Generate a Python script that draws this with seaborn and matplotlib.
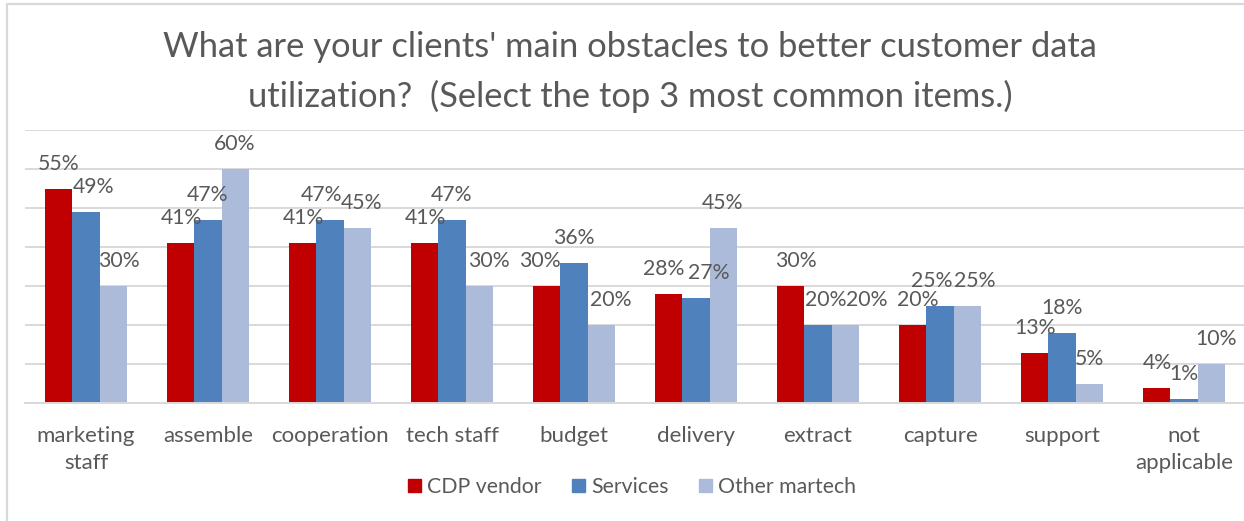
import matplotlib
matplotlib.use("Agg")
import matplotlib.pyplot as plt
from matplotlib.lines import Line2D
import seaborn as sns
import pandas as pd

# Survey answers, share of respondents (%)
categories = ["marketing\nstaff", "assemble", "cooperation", "tech staff", "budget",
              "delivery", "extract", "capture", "support", "not\napplicable"]
series_names = ["CDP vendor", "Services", "Other martech"]
cdp_vendor = [55, 41, 41, 41, 30, 28, 30, 20, 13, 4]
services = [49, 47, 47, 47, 36, 27, 20, 25, 18, 1]
other_martech = [30, 60, 45, 30, 20, 45, 20, 25, 5, 10]

title = ("What are your clients' main obstacles to better customer data\n"
         "utilization?  (Select the top 3 most common items.)")

# Horizontal nudges (pixels) that keep neighbouring value labels apart
label_nudge = [
    (0, 8, 6), (0, 0, 0), (0, -8, 5), (0, 0, 10), (-7, 0, 10),
    (-5, 13, 0), (5, 8, 22), (5, -8, 8), (0, 0, 0), (0, 0, 5),
]

colors = ["#C00000", "#4F81BD", "#ABBBD9"]
text_color = "#595959"
grid_color = "#D9D9D9"

values = [cdp_vendor, services, other_martech]
df = pd.DataFrame({
    "category": categories * 3,
    "series": [s for s in series_names for _ in categories],
    "value": [v for vals in values for v in vals],
})

sns.set_theme(style="white")
plt.rcParams["font.family"] = ["Lato", "DejaVu Sans"]

W, H = 1244, 521
fig = plt.figure(figsize=(W / 100, H / 100), dpi=100)
ax = fig.add_axes([25 / W, 1 - 403.3 / H, 1220 / W, 273.3 / H])

sns.barplot(data=df, x="category", y="value", hue="series", order=categories,
            hue_order=series_names, palette=colors, width=0.664, gap=0,
            linewidth=0, saturation=1, ax=ax, legend=True)

ax.set_ylim(0, 70)
ax.set_xlim(-0.5, 9.5)
ax.set_yticks(range(0, 71, 10))
ax.yaxis.grid(True, color=grid_color, linewidth=1.4)
ax.set_axisbelow(True)
ax.tick_params(axis="y", left=False, labelleft=False)
for side in ["left", "right", "top"]:
    ax.spines[side].set_visible(False)
ax.spines["bottom"].set_color(grid_color)
ax.spines["bottom"].set_linewidth(1.4)
ax.set_xlabel("")
ax.set_ylabel("")

# Category labels, with small tick marks on the category boundaries
ax.set_xticks(range(len(categories)))
ax.set_xticklabels(categories, fontsize=16, color=text_color, linespacing=1.45,
                   va="top")
ax.tick_params(axis="x", which="major", length=0, pad=16)
ax.set_xticks([i - 0.5 for i in range(len(categories) + 1)], minor=True)
ax.tick_params(axis="x", which="minor", length=6, width=1.4, color=grid_color)

# Value labels above every bar
for s_idx, container in enumerate(ax.containers):
    for c_idx, bar in enumerate(container):
        val = values[s_idx][c_idx]
        xc = bar.get_x() + bar.get_width() / 2
        ax.annotate(f"{val}%", (xc, bar.get_height()),
                    xytext=(label_nudge[c_idx][s_idx], 25),
                    textcoords="offset pixels", ha="center", va="center",
                    fontsize=15.3, color=text_color)

ax.get_legend().remove()
handles = [plt.Rectangle((0, 0), 1, 1, color=c) for c in colors]
fig.legend(handles, series_names, loc="center", ncol=3,
           bbox_to_anchor=(632 / W, 1 - 487 / H), frameon=False,
           fontsize=15.3, labelcolor=text_color, handlelength=0.62,
           handleheight=0.62, handletextpad=0.3, columnspacing=1.4)

fig.text(630 / W, 1 - 72 / H, title, ha="center", va="center", fontsize=24.8,
         color=text_color, linespacing=1.6)

# Chart frame
fig.add_artist(Line2D([7 / W, 7 / W], [0, 1 - 4 / H], color=grid_color,
                      linewidth=1.6, transform=fig.transFigure))
fig.add_artist(Line2D([7 / W, 1], [1 - 4 / H, 1 - 4 / H], color=grid_color,
                      linewidth=1.6, transform=fig.transFigure))

fig.savefig("out.png", dpi=100, facecolor="white")
